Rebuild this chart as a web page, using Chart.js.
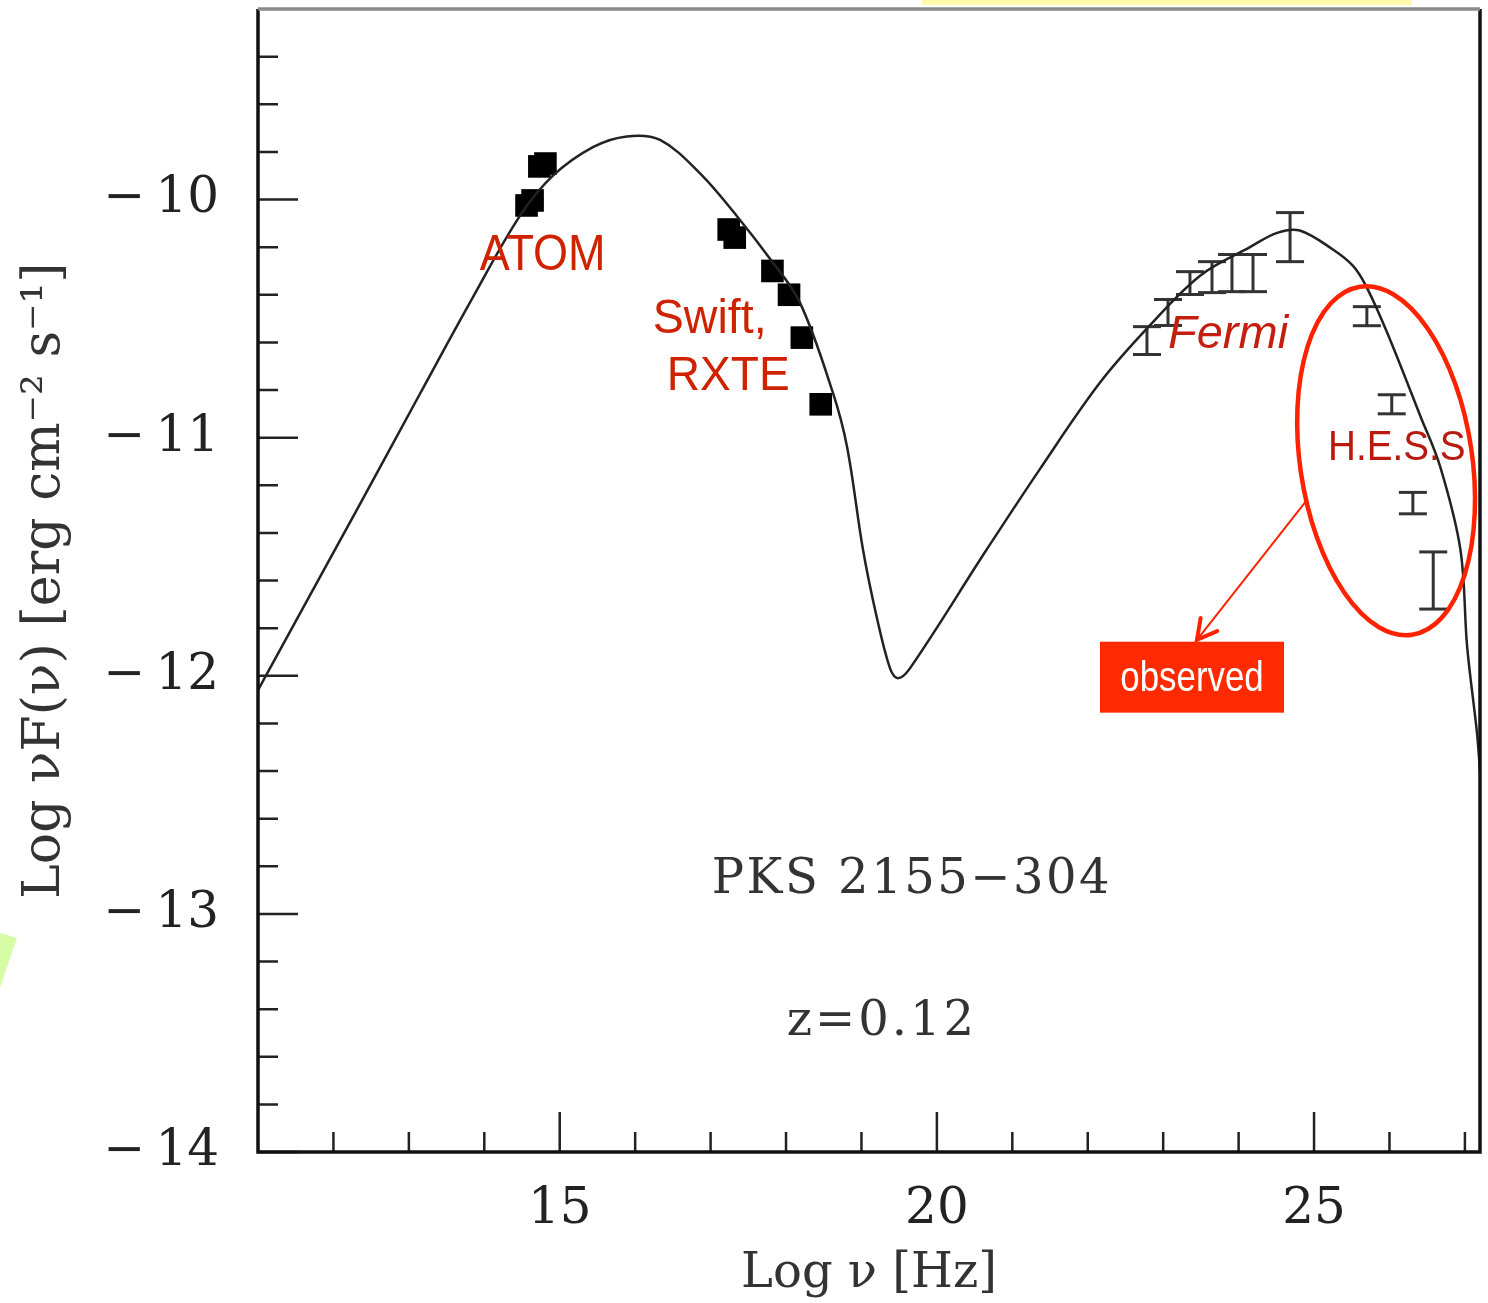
<!DOCTYPE html>
<html>
<head>
<meta charset="utf-8">
<script src="https://cdn.jsdelivr.net/npm/chart.js@4.4.1/dist/chart.umd.min.js"></script>
<style>
  html, body { margin: 0; padding: 0; background: #fff; }
  canvas { display: block; }
</style>
</head>
<body>
<canvas id="sed" width="1488" height="1303"></canvas>
<script>
// SED of PKS 2155-304 : model curve + ATOM, Swift/RXTE, Fermi and H.E.S.S points
// values (log nu [Hz], log nuF(nu) [erg cm-2 s-1])
const modelX = [11.0, 12.35, 13.14, 13.85, 14.47, 14.91, 15.44, 15.89, 16.33, 16.86, 17.35, 17.79, 18.18,
  18.62, 18.81, 19.02, 19.20, 19.38, 19.48, 19.64, 20.66, 21.37, 22.16, 22.82, 23.49, 24.15, 24.51,
  24.81, 25.25, 25.52, 25.70, 25.97, 26.41, 26.67, 26.94, 27.03, 27.16, 27.2];
const modelY = [-12.06, -11.28, -10.82, -10.41, -10.07, -9.90, -9.78, -9.735, -9.75, -9.89, -10.07, -10.25, -10.43,
  -10.81, -11.04, -11.47, -11.75, -11.97, -12.01, -11.97, -11.47, -11.13, -10.77, -10.53, -10.32, -10.20, -10.14,
  -10.13, -10.21, -10.28, -10.37, -10.56, -10.91, -11.12, -11.47, -11.88, -12.24, -12.4];

const atomX = [14.56, 14.64, 14.73, 14.81];
const atomY = [-10.025, -10.004, -9.861, -9.849];

const swiftX = [17.24, 17.32, 17.82, 18.04, 18.21, 18.46];
const swiftY = [-10.126, -10.16, -10.30, -10.40, -10.58, -10.86];

const fermiX = [22.785, 23.064, 23.355, 23.647, 23.912, 24.191, 24.682];
const fermiLo = [-10.651, -10.529, -10.399, -10.391, -10.387, -10.387, -10.261];
const fermiHi = [-10.534, -10.420, -10.303, -10.261, -10.231, -10.231, -10.055];

const hessX = [25.70, 26.03, 26.31, 26.58];
const hessLo = [-10.53, -10.90, -11.32, -11.72];
const hessHi = [-10.45, -10.82, -11.23, -11.48];

const xMajorTicks = [15, 20, 25];
const xMinorTicks = [12, 13, 14, 16, 17, 18, 19, 21, 22, 23, 24, 26, 27];
const yMajorTicks = [-14, -13, -12, -11, -10];

const serif = 'DejaVu Serif';
const sans = 'Liberation Sans';

// error bars: one small line dataset per bar, caps are 'line' point markers
function errorBarSets(xs, lo, hi, color) {
    return xs.map((x, i) => ({
        type: 'line',
        data: [{ x: x, y: lo[i] }, { x: x, y: hi[i] }],
        showLine: true,
        borderColor: color,
        borderWidth: 3,
        pointStyle: 'line',
        pointRadius: 14,
        pointBorderWidth: 3,
        pointBorderColor: color,
        pointBackgroundColor: color
    }));
}

// text squeezed horizontally (the slide labels are a bit condensed)
function squeezedText(c, text, x, y, sx) {
    c.save();
    c.translate(x, y);
    c.scale(sx, 1);
    c.fillText(text, 0, 0);
    c.restore();
}

// frame, inward ticks, labels and the red annotations
const sedDecor = {
    id: 'sedDecor',
    beforeDraw(chart) {
        const c = chart.ctx;
        c.save();
        c.fillStyle = '#fffbaa';
        c.fillRect(922, 0, 490, 5);
        c.fillStyle = '#d6fca6';
        c.beginPath();
        c.moveTo(0, 933); c.lineTo(17, 938); c.lineTo(0, 988);
        c.closePath();
        c.fill();
        c.restore();
    },
    afterDatasetsDraw(chart) {
        const c = chart.ctx;
        const xs = chart.scales.x, ys = chart.scales.y;
        const { left, right, top, bottom } = chart.chartArea;
        const X = v => xs.getPixelForValue(v);
        const Y = v => ys.getPixelForValue(v);
        c.save();

        // ticks pointing into the plot
        c.strokeStyle = '#222';
        c.lineWidth = 2.5;
        c.beginPath();
        xMajorTicks.forEach(v => { c.moveTo(X(v), bottom); c.lineTo(X(v), bottom - 40); });
        xMinorTicks.forEach(v => { c.moveTo(X(v), bottom); c.lineTo(X(v), bottom - 20); });
        for (let v = -14; v < -9.3; v += 0.2) {
            const major = Math.abs(v - Math.round(v)) < 1e-6;
            c.moveTo(left, Y(v));
            c.lineTo(left + (major ? 40 : 20), Y(v));
        }
        c.stroke();

        // frame
        c.strokeStyle = '#111';
        c.lineWidth = 3.5;
        c.beginPath();
        c.moveTo(right, top); c.lineTo(right, bottom); c.lineTo(left, bottom); c.lineTo(left, top);
        c.stroke();
        c.strokeStyle = '#8a8a8a';
        c.beginPath();
        c.moveTo(left, top); c.lineTo(right, top);
        c.stroke();

        // source name
        c.fillStyle = '#333';
        c.font = '48px "' + serif + '"';
        c.textBaseline = 'alphabetic';
        c.textAlign = 'left';
        c.letterSpacing = '2.5px';
        c.fillText('PKS 2155\u2212304', X(17.016), Y(-12.912));
        c.letterSpacing = '3px';
        c.fillText('z=0.12', X(18.01), Y(-13.508));
        c.letterSpacing = '0px';

        // instrument labels
        c.fillStyle = '#cf2200';
        c.font = '50px "' + sans + '"';
        squeezedText(c, 'ATOM', X(13.94), Y(-10.294), 0.9);
        c.font = '48px "' + sans + '"';
        squeezedText(c, 'Swift,', X(16.233), Y(-10.559), 0.97);
        squeezedText(c, 'RXTE', X(16.419), Y(-10.798), 0.96);
        c.fillStyle = '#c41e0e';
        c.font = 'italic 47px "' + sans + '"';
        c.fillText('Fermi', X(23.064), Y(-10.622));
        c.fillStyle = '#b81a10';
        c.font = '42px "' + sans + '"';
        squeezedText(c, 'H.E.S.S', X(25.186), Y(-11.092), 0.92);

        // ellipse round the H.E.S.S points
        c.strokeStyle = '#ff2200';
        c.lineWidth = 4.5;
        c.beginPath();
        c.ellipse(X(25.955), Y(-11.097), 86, 176, -8.5 * Math.PI / 180, 0, Math.PI * 2);
        c.stroke();

        // arrow to the label box
        const ax0 = X(24.907), ay0 = Y(-11.261), ax1 = X(23.448), ay1 = Y(-11.849);
        c.lineWidth = 2;
        c.beginPath();
        c.moveTo(ax0, ay0); c.lineTo(ax1, ay1);
        c.stroke();
        const ang = Math.atan2(ay1 - ay0, ax1 - ax0);
        c.lineWidth = 4;
        c.lineCap = 'round';
        c.beginPath();
        c.moveTo(ax1 - 22 * Math.cos(ang - 0.5), ay1 - 22 * Math.sin(ang - 0.5));
        c.lineTo(ax1, ay1);
        c.lineTo(ax1 - 22 * Math.cos(ang + 0.5), ay1 - 22 * Math.sin(ang + 0.5));
        c.stroke();

        // "observed" box
        const bx0 = X(22.162), bx1 = X(24.602), by0 = Y(-11.857), by1 = Y(-12.155);
        c.fillStyle = '#ff2a00';
        c.fillRect(bx0, by0, bx1 - bx0, by1 - by0);
        c.fillStyle = '#fff';
        c.font = '42px "' + sans + '"';
        c.textAlign = 'center';
        c.textBaseline = 'middle';
        squeezedText(c, 'observed', (bx0 + bx1) / 2, (by0 + by1) / 2 + 2, 0.83);

        c.restore();
    }
};

const datasets = [
    {
        type: 'line',
        data: modelX.map((x, i) => ({ x: x, y: modelY[i] })),
        showLine: true,
        borderColor: '#222',
        borderWidth: 2.5,
        pointRadius: 0,
        tension: 0.35
    },
    {
        type: 'scatter',
        data: atomX.concat(swiftX).map((x, i) => ({ x: x, y: atomY.concat(swiftY)[i] })),
        pointStyle: 'rect',
        pointRadius: 16,
        backgroundColor: '#000',
        borderWidth: 0
    }
].concat(errorBarSets(fermiX, fermiLo, fermiHi, '#333'), errorBarSets(hessX, hessLo, hessHi, '#333'));

const tickFont = { family: serif, size: 50 };

new Chart(document.getElementById('sed').getContext('2d'), {
    type: 'scatter',
    data: { datasets: datasets },
    options: {
        responsive: false,
        animation: false,
        layout: { autoPadding: false, padding: { top: 9, right: 8, left: 0, bottom: 0 } },
        plugins: {
            legend: { display: false },
            tooltip: { enabled: false }
        },
        scales: {
            x: {
                type: 'linear',
                min: 11,
                max: 27.2,
                afterFit: s => { s.height = 151; s.paddingLeft = 0; s.paddingRight = 0; },
                afterBuildTicks: s => { s.ticks = xMajorTicks.map(v => ({ value: v })); },
                grid: { display: false },
                border: { display: false },
                ticks: { font: tickFont, color: '#222', padding: 20, maxRotation: 0 },
                title: { display: true, text: 'Log \u03bd [Hz]', font: { family: serif, size: 48 }, color: '#333', padding: 0 }
            },
            y: {
                type: 'linear',
                min: -14,
                max: -9.2,
                afterFit: s => { s.width = 258; s.paddingTop = 0; s.paddingBottom = 0; },
                afterBuildTicks: s => { s.ticks = yMajorTicks.map(v => ({ value: v })); },
                grid: { display: false },
                border: { display: false },
                ticks: {
                    font: tickFont,
                    color: '#222',
                    padding: 31,
                    callback: v => '\u2212\u2009' + Math.abs(v)
                },
                title: {
                    display: true,
                    text: 'Log \u03bdF(\u03bd) [erg cm\u207b\u00b2 s\u207b\u00b9]',
                    font: { family: serif, size: 52 },
                    color: '#333',
                    padding: { top: 14, bottom: 0 }
                }
            }
        }
    },
    plugins: [sedDecor]
});
</script>
</body>
</html>
